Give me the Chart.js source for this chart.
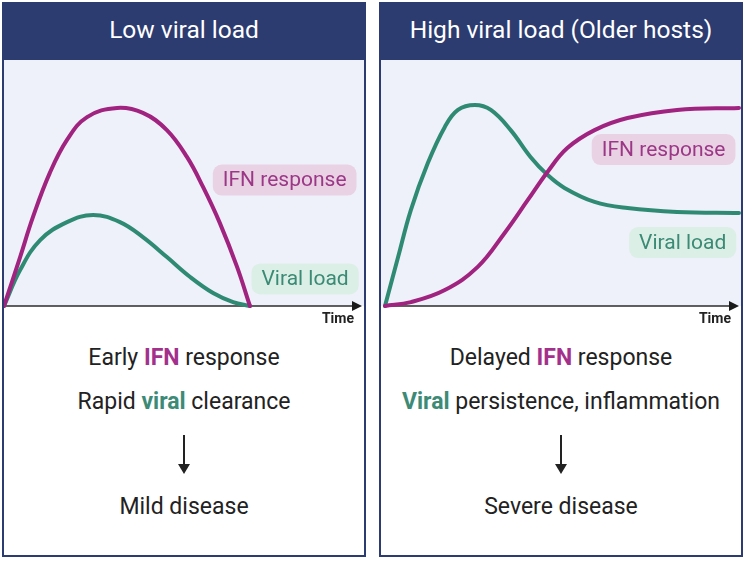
<!DOCTYPE html>
<html lang="en">
<head>
    <meta charset="UTF-8">
    <title>Viral load and IFN response</title>
    <script src="https://cdn.jsdelivr.net/npm/chart.js"></script>
    <style>
        body {
            margin: 0;
            background: #ffffff;
            font-family: 'Roboto', 'Open Sans', sans-serif;
            width: 744px;
            height: 561px;
            position: relative;
            overflow: hidden;
        }

        .panel {
            position: absolute;
            top: 2px;
            width: 364px;
            height: 555px;
            box-sizing: border-box;
            border: 2px solid #2c3b70;
            background: #ffffff;
        }

        .panel-head {
            position: absolute;
            left: 0;
            top: 0;
            right: 0;
            height: 56px;
            line-height: 52px;
            background: #2c3b70;
            color: #ffffff;
            text-align: center;
            font-size: 24.5px;
        }

        .panel canvas {
            position: absolute;
            left: 0;
            top: 56px;
        }

        .line {
            position: absolute;
            left: 0;
            right: 0;
            height: 26px;
            line-height: 26px;
            text-align: center;
            font-size: 23px;
            color: #222222;
        }

        .ifn { color: #a3318c; font-weight: 700; }
        .vir { color: #3d8b77; font-weight: 700; }

        .arrow {
            position: absolute;
            left: 50%;
            width: 2px;
            height: 30px;
            margin-left: -1px;
            background: #222222;
        }

        .arrow::after {
            content: '';
            position: absolute;
            left: -5px;
            bottom: -9px;
            border-left: 6px solid transparent;
            border-right: 6px solid transparent;
            border-top: 10px solid #222222;
        }
    </style>
</head>
<body>
    <div class="panel" style="left: 2px;">
        <div class="panel-head">Low viral load</div>
        <canvas id="lowChart" width="360" height="270"></canvas>
        <div class="line" style="top: 341px;">Early <span class="ifn">IFN</span> response</div>
        <div class="line" style="top: 385px;">Rapid <span class="vir">viral</span> clearance</div>
        <div class="arrow" style="top: 431px;"></div>
        <div class="line" style="top: 490px;">Mild disease</div>
    </div>

    <div class="panel" style="left: 379px;">
        <div class="panel-head">High viral load (Older hosts)</div>
        <canvas id="highChart" width="360" height="270"></canvas>
        <div class="line" style="top: 341px;">Delayed <span class="ifn">IFN</span> response</div>
        <div class="line" style="top: 385px;"><span class="vir">Viral</span> persistence, inflammation</div>
        <div class="arrow" style="top: 431px;"></div>
        <div class="line" style="top: 490px;">Severe disease</div>
    </div>

    <script>
        // values (time 0-100, level 0-100)
        const lowIfnTime = [0, 4.5, 8.1, 12.8, 17.6, 23.2, 31.6, 38.8, 45.5, 51.1, 55.6, 60.3, 65.1, 68.7];
        const lowIfnLevel = [0, 19.9, 36.2, 54.1, 67.5, 76.8, 80.5, 78.5, 71.5, 60.6, 48.4, 33.7, 15.9, 0];
        const lowViralTime = [0, 4.5, 10.1, 17.6, 24.9, 32.4, 38.8, 45.5, 52.0, 58.4, 64.0, 68.7];
        const lowViralLevel = [0, 14.6, 26.8, 34.1, 37.0, 34.1, 28.0, 19.9, 11.8, 5.3, 1.6, 0];

        const highIfnTime = [0, 7.3, 16.9, 26.2, 33.8, 40.3, 45.9, 51.5, 59.2, 68.5, 82.5, 100];
        const highIfnLevel = [0, 1.6, 6.5, 15.9, 29.7, 43.0, 54.5, 64.2, 71.5, 76.4, 79.7, 80.5];
        const highViralTime = [0, 3.7, 7.3, 12.1, 16.9, 20.6, 25.4, 29.9, 35.5, 41.1, 45.9, 50.7, 59.2, 68.5, 82.5, 100];
        const highViralLevel = [0, 19.9, 39.0, 58.1, 72.8, 79.7, 81.7, 79.7, 71.5, 60.6, 53.3, 48.0, 42.3, 39.8, 38.2, 37.8];

        const ifnColor = '#a0237f';
        const viralColor = '#2f8a74';

        function points(ts, vs) {
            return ts.map(function(t, i) { return { x: t, y: vs[i] }; });
        }

        const panelDecor = {
            id: 'panelDecor',
            beforeDraw: function(chart) {
                const ctx = chart.ctx;
                const area = chart.chartArea;
                ctx.save();
                ctx.fillStyle = '#eef1fa';
                ctx.fillRect(0, 0, chart.width, area.bottom);
                ctx.restore();
            },
            beforeDatasetsDraw: function(chart) {
                const ctx = chart.ctx;
                const area = chart.chartArea;
                ctx.save();
                ctx.strokeStyle = '#2b2b2b';
                ctx.lineWidth = 1.5;
                ctx.beginPath();
                ctx.moveTo(area.left, area.bottom);
                ctx.lineTo(area.right - 6, area.bottom);
                ctx.stroke();
                ctx.fillStyle = '#1a1a1a';
                ctx.beginPath();
                ctx.moveTo(area.right, area.bottom);
                ctx.lineTo(area.right - 10, area.bottom - 5);
                ctx.lineTo(area.right - 10, area.bottom + 5);
                ctx.closePath();
                ctx.fill();

                ctx.font = 'bold 14px Roboto, sans-serif';
                ctx.textAlign = 'right';
                ctx.textBaseline = 'middle';
                ctx.fillStyle = '#222222';
                ctx.fillText('Time', area.right - 8, area.bottom + 13);
                ctx.restore();
            },
            afterDraw: function(chart, args, opts) {
                const ctx = chart.ctx;
                const xs = chart.scales.x;
                const ys = chart.scales.y;
                ctx.save();
                ctx.font = '21px Roboto, sans-serif';
                ctx.textAlign = 'center';
                ctx.textBaseline = 'middle';
                (opts.labels || []).forEach(function(lb) {
                    const cx = xs.getPixelForValue(lb.x);
                    const cy = ys.getPixelForValue(lb.y);
                    const w = ctx.measureText(lb.text).width + 20;
                    const h = 31;
                    ctx.fillStyle = lb.bg;
                    ctx.beginPath();
                    ctx.roundRect(cx - w / 2, cy - h / 2, w, h, 9);
                    ctx.fill();
                    ctx.fillStyle = lb.color;
                    ctx.fillText(lb.text, cx, cy + 1);
                });
                ctx.restore();
            }
        };

        function makeChart(id, ifnPts, viralPts, padLeft, labels) {
            return new Chart(document.getElementById(id), {
                type: 'line',
                data: {
                    datasets: [{
                        label: 'IFN response',
                        data: ifnPts,
                        borderColor: ifnColor,
                        borderWidth: 4,
                        tension: 0.4,
                        borderCapStyle: 'round',
                        pointRadius: 0,
                        clip: false
                    }, {
                        label: 'Viral load',
                        data: viralPts,
                        borderColor: viralColor,
                        borderWidth: 4,
                        tension: 0.4,
                        borderCapStyle: 'round',
                        pointRadius: 0,
                        clip: false
                    }]
                },
                options: {
                    responsive: false,
                    animation: false,
                    layout: {
                        padding: { left: padLeft, right: 2, top: 0, bottom: 24 }
                    },
                    scales: {
                        x: { type: 'linear', min: 0, max: 100, display: false },
                        y: { min: 0, max: 100, display: false }
                    },
                    plugins: {
                        legend: { display: false },
                        tooltip: { enabled: false },
                        panelDecor: { labels: labels }
                    }
                },
                plugins: [panelDecor]
            });
        }

        makeChart('lowChart',
            points(lowIfnTime, lowIfnLevel),
            points(lowViralTime, lowViralLevel),
            0,
            [
                { text: 'IFN response', x: 78.4, y: 51.2, color: '#9b3786', bg: '#ead2e5' },
                { text: 'Viral load', x: 84.1, y: 11.0, color: '#3a8a74', bg: '#dcefe6' }
            ]);

        makeChart('highChart',
            points(highIfnTime, highIfnLevel),
            points(highViralTime, highViralLevel),
            4,
            [
                { text: 'IFN response', x: 78.7, y: 63.6, color: '#9b3786', bg: '#ead2e5' },
                { text: 'Viral load', x: 84.1, y: 25.8, color: '#3a8a74', bg: '#dcefe6' }
            ]);
    </script>
</body>
</html>
